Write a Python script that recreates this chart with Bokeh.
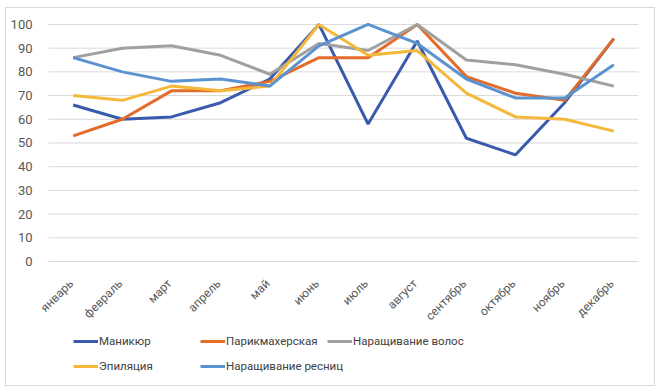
from math import pi
from bokeh.plotting import figure
from bokeh.models import (Legend, LegendItem, Range1d, ColumnDataSource,
                          FactorRange, FixedTicker)
from bokeh.transform import dodge
from bokeh.core.properties import value
from bokeh.embed import file_html
from bokeh.resources import INLINE

months = ["январь", "февраль", "март", "апрель", "май", "июнь", "июль",
          "август", "сентябрь", "октябрь", "ноябрь", "декабрь"]
manicure = [66, 60, 61, 67, 77, 100, 58, 93, 52, 45, 67, 94]
hairdresser = [53, 60, 72, 72, 76, 86, 86, 100, 78, 71, 68, 94]
hair_ext = [86, 90, 91, 87, 79, 92, 89, 100, 85, 83, 79, 74]
epilation = [70, 68, 74, 72, 74, 100, 87, 89, 71, 61, 60, 55]
lash_ext = [86, 80, 76, 77, 74, 91, 100, 92, 77, 69, 69, 83]
y_ticks = [0, 10, 20, 30, 40, 50, 60, 70, 80, 90, 100]
label_base = [0] * len(months)

series = [
    ("Маникюр", manicure, "#3A5BAD"),
    ("Парикмахерская", hairdresser, "#E46C2A"),
    ("Наращивание волос", hair_ext, "#A0A0A0"),
    ("Эпиляция", epilation, "#F4B93A"),
    ("Наращивание ресниц", lash_ext, "#5B93D0"),
]

FONT = "Roboto"

# The frame extends below 0 so that month labels and legend live inside it.
xr = FactorRange(factors=months, range_padding=0.165,
                 range_padding_units="absolute")
p = figure(x_range=xr, y_range=Range1d(-52.3, 104.2), width=650, height=379,
           output_backend="svg", toolbar_location=None,
           min_border_left=34, min_border_right=10, min_border_top=6,
           min_border_bottom=2)
p.margin = (7, 0, 0, 5)
p.outline_line_color = None
p.styles = {"border": "1px solid #D9D9D9", "box-sizing": "border-box"}
p.xaxis.visible = False
p.xgrid.visible = False
p.ygrid.visible = False

p.yaxis.ticker = FixedTicker(ticks=y_ticks)
p.yaxis.axis_line_color = None
p.yaxis.major_tick_line_color = None
p.yaxis.minor_tick_line_color = None
p.yaxis.major_label_text_font = FONT
p.yaxis.major_label_text_font_size = "13px"
p.yaxis.major_label_text_color = "#595959"
p.yaxis.major_label_standoff = 2

# horizontal grid lines spanning the category band
grid_src = ColumnDataSource(dict(y=y_ticks,
                                 x0=[months[0]] * len(y_ticks),
                                 x1=[months[-1]] * len(y_ticks)))
p.segment(x0=dodge("x0", -0.5, range=xr), x1=dodge("x1", 0.5, range=xr),
          y0="y", y1="y", source=grid_src, line_color="#D9D9D9",
          line_width=1)

items = []
for name, vals, col in series:
    r = p.line(months, vals, line_color=col, line_width=3)
    items.append(LegendItem(label=name, renderers=[r]))

src = ColumnDataSource(dict(x=months, y=label_base, t=months))
p.text(x="x", y="y", text="t", source=src, angle=pi / 4,
       text_align="right", text_baseline="middle",
       x_offset=-2, y_offset=20,
       text_font=value(FONT), text_font_size=value("12px"),
       text_color="#595959")

columns = [[items[0], items[3]], [items[1], items[4]], [items[2]]]
col_x = [33, 160, 287]
for its, x in zip(columns, col_x):
    lg = Legend(items=its, location=(x, 9 + (25 if len(its) == 1 else 0)),
                orientation="vertical",
                glyph_width=25, glyph_height=20, label_height=20,
                label_standoff=1, spacing=5, padding=0, margin=0,
                border_line_color=None, background_fill_alpha=0,
                label_text_font=FONT, label_text_font_size="11.5px",
                label_text_color="#404040")
    p.add_layout(lg, "center")

open("out.html", "w").write(file_html(p, INLINE))
